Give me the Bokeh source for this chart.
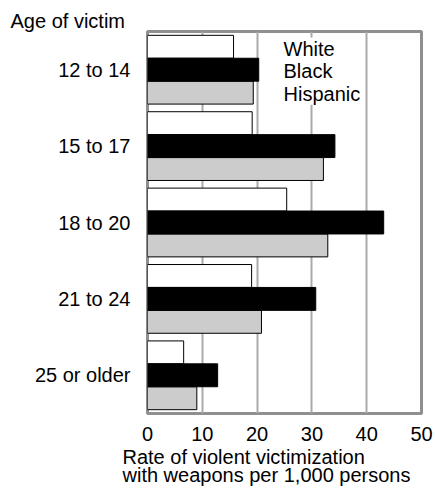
from bokeh.plotting import figure
from bokeh.models import FactorRange, Label, Range1d, FixedTicker, Title
from bokeh.transform import dodge
from bokeh.models import ColumnDataSource
from bokeh.embed import file_html
from bokeh.resources import INLINE

ages = ["12 to 14", "15 to 17", "18 to 20", "21 to 24", "25 or older"]
white = [15.7, 19.1, 25.4, 19.0, 6.6]
black = [20.3, 34.2, 43.1, 30.7, 12.8]
hispanic = [19.3, 32.1, 32.9, 20.8, 9.0]
x_ticks = [0, 10, 20, 30, 40, 50]
legend_labels = ["White", "Black", "Hispanic"]
x_title = ["Rate of violent victimization", "with weapons per 1,000 persons"]

FONT = "Liberation Sans"
FS = "20px"

src = ColumnDataSource(dict(age=ages, white=white, black=black, hispanic=hispanic))

p = figure(width=435, height=491, output_backend="svg", toolbar_location=None,
           y_range=FactorRange(*reversed(ages), range_padding=0),
           x_range=Range1d(0, 50),
           min_border_left=147, min_border_right=14, min_border_top=31, min_border_bottom=78)

bh = 0.3
p.hbar(y=dodge("age", bh, range=p.y_range), right="white", left=0, height=bh, source=src,
       fill_color="white", line_color="black", line_width=1)
p.hbar(y=dodge("age", -bh, range=p.y_range), right="hispanic", left=0, height=bh, source=src,
       fill_color="#cccccc", line_color="black", line_width=1)
p.hbar(y=dodge("age", 0, range=p.y_range), right="black", left=0, height=bh, source=src,
       fill_color="black", line_color="black", line_width=1)

p.outline_line_color = "#8f8f8f"
p.outline_line_width = 3
p.background_fill_color = "white"
p.border_fill_color = "white"

p.ygrid.grid_line_color = None
p.xgrid.grid_line_color = "#aaaaaa"
p.xgrid.grid_line_width = 2
p.xgrid.ticker = FixedTicker(ticks=x_ticks)

p.xaxis.ticker = FixedTicker(ticks=x_ticks)
p.xaxis.axis_line_color = None
p.xaxis.major_tick_line_color = None
p.xaxis.minor_tick_line_color = None
p.xaxis.major_label_standoff = 7
p.xaxis.major_label_text_font = FONT
p.xaxis.major_label_text_font_size = FS
p.xaxis.major_label_text_color = "black"

p.yaxis.axis_line_color = None
p.yaxis.major_tick_line_color = None
p.yaxis.major_tick_out = 0
p.yaxis.major_label_standoff = 17
p.yaxis.major_label_text_font = FONT
p.yaxis.major_label_text_font_size = FS
p.yaxis.major_label_text_color = "black"

p.add_layout(Label(x=136, y=376, x_units="screen", y_units="screen",
                   text="\n".join(legend_labels), text_baseline="top", text_align="left",
                   text_font=FONT, text_font_size=FS, text_line_height=1.03,
                   background_fill_color="white", text_color="black"))

p.add_layout(Title(text="Age of victim", align="left", offset=-137, standoff=0,
                   text_font=FONT, text_font_size=FS, text_font_style="normal",
                   text_color="black"), "above")

p.add_layout(Title(text="\n".join(x_title), align="left", offset=-25, standoff=0,
                   text_font=FONT, text_font_size=FS, text_font_style="normal",
                   text_line_height=0.85, text_color="black"), "below")

open("out.html", "w").write(file_html(p, INLINE))
